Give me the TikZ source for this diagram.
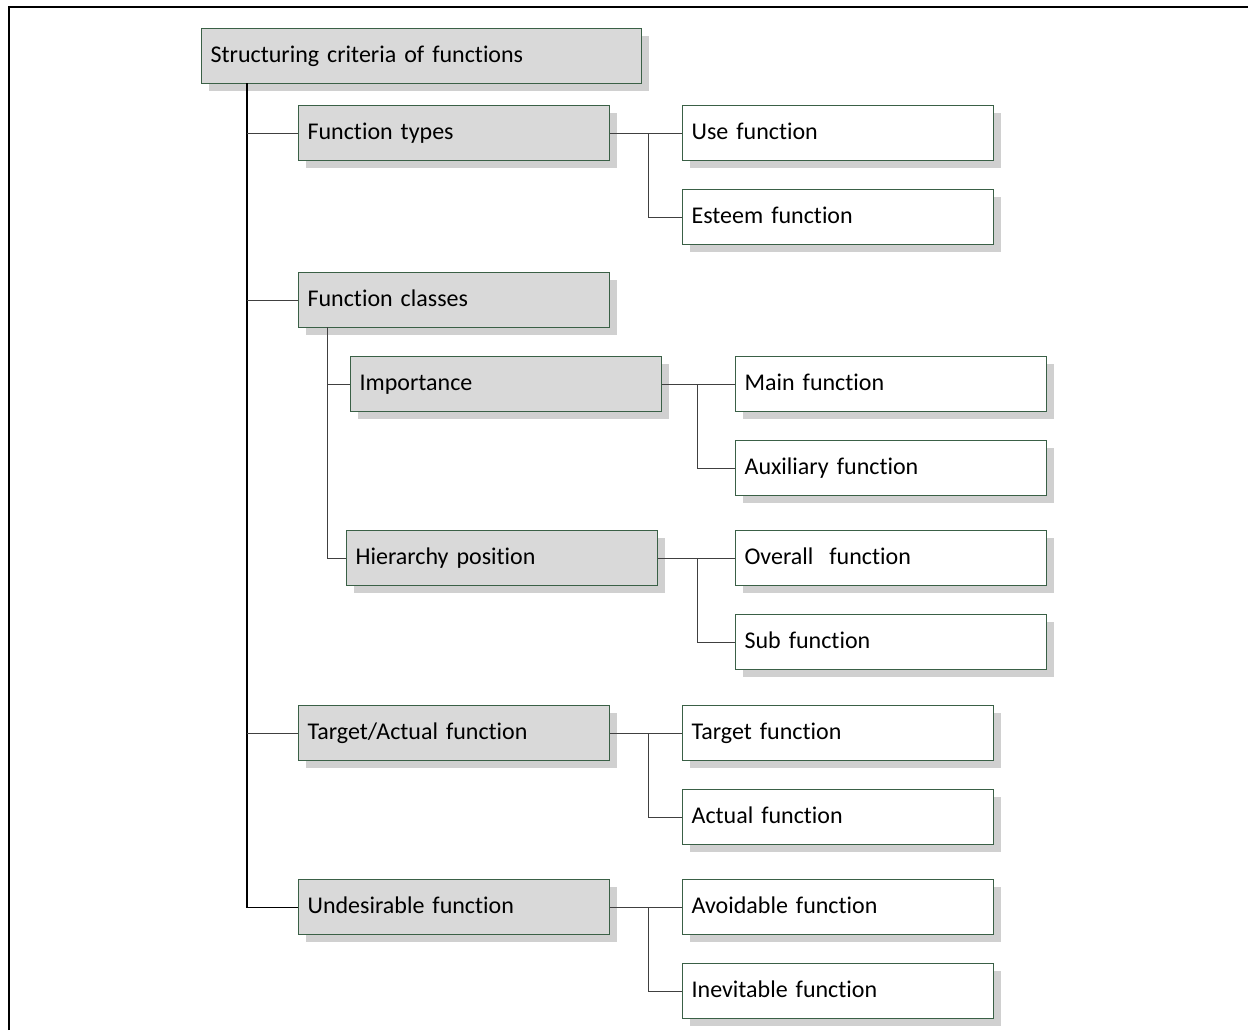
\documentclass[tikz,border=0pt]{standalone}
\usepackage{fontspec}
\setmainfont{Carlito}[Ligatures=NoCommon]
\usetikzlibrary{shadows}
\definecolor{frame}{RGB}{58,96,70}
\definecolor{catfill}{RGB}{217,217,217}
\definecolor{shade}{RGB}{208,208,208}
\newcommand{\bw}{146.5pt}

\begin{document}
\begin{tikzpicture}[x=0.5pt, y=-0.5pt,
    box/.style={draw=frame, line width=0.6pt, rectangle, anchor=north west, minimum height=27.5pt, inner xsep=4.5pt, text width=\bw, text height=8.6pt, text depth=2.6pt, align=left, font=\fontsize{12pt}{14pt}\selectfont, drop shadow={shadow xshift=3.5pt, shadow yshift=-3.5pt, fill=shade, opacity=1}},
    cat/.style={box, fill=catfill},
    leaf/.style={box, fill=white},
    link/.style={draw=black!75, line width=0.5pt}]
    \useasboundingbox (0,0) rectangle (1248,1030);
    \draw[line width=0.8pt] (9,1030) -- (9,7) -- (1248,7);

    % Root
    \node[cat, text width=211pt] (root) at (201,28) {Structuring criteria of functions};

    % Second level
    \node[cat] (types) at (298,105) {Function types};
    \node[cat] (classes) at (298,272) {Function classes};
    \node[cat] (importance) at (350,356) {Importance};
    \node[cat] (hierarchy) at (346,530) {Hierarchy position};
    \node[cat] (targact) at (298,705) {Target/Actual function};
    \node[cat] (undes) at (298,879) {Undesirable function};

    % Leaves
    \node[leaf] (use) at (682,105) {Use function};
    \node[leaf] (esteem) at (682,189) {Esteem function};
    \node[leaf] (main) at (735,356) {Main function};
    \node[leaf] (aux) at (735,440) {Auxiliary function};
    \node[leaf] (overall) at (735,530) {Overall~ function};
    \node[leaf] (sub) at (735,614) {Sub function};
    \node[leaf] (target) at (682,705) {Target function};
    \node[leaf] (actual) at (682,789) {Actual function};
    \node[leaf] (avoid) at (682,879) {Avoidable function};
    \node[leaf] (inevit) at (682,963) {Inevitable function};

    % Trunk
    \coordinate (t0) at (247,83);
    \draw[line width=0.6pt] (t0) |- (undes.west);
    \draw[link] (t0 |- types.west) -- (types.west);
    \draw[link] (t0 |- classes.west) -- (classes.west);
    \draw[link] (t0 |- targact.west) -- (targact.west);

    % Function classes
    \coordinate (c0) at (327,327);
    \draw[link] (c0) |- (hierarchy.west);
    \draw[link] (c0 |- importance.west) -- (importance.west);

    % Branches to leaves
    \draw[link] (types.east) -- coordinate[pos=0.534] (j1) (use.west);
    \draw[link] (j1) |- (esteem.west);
    \draw[link] (importance.east) -- coordinate[pos=0.486] (j2) (main.west);
    \draw[link] (j2) |- (aux.west);
    \draw[link] (hierarchy.east) -- coordinate[pos=0.513] (j3) (overall.west);
    \draw[link] (j3) |- (sub.west);
    \draw[link] (targact.east) -- coordinate[pos=0.534] (j4) (target.west);
    \draw[link] (j4) |- (actual.west);
    \draw[link] (undes.east) -- coordinate[pos=0.534] (j5) (avoid.west);
    \draw[link] (j5) |- (inevit.west);
\end{tikzpicture}
\end{document}
